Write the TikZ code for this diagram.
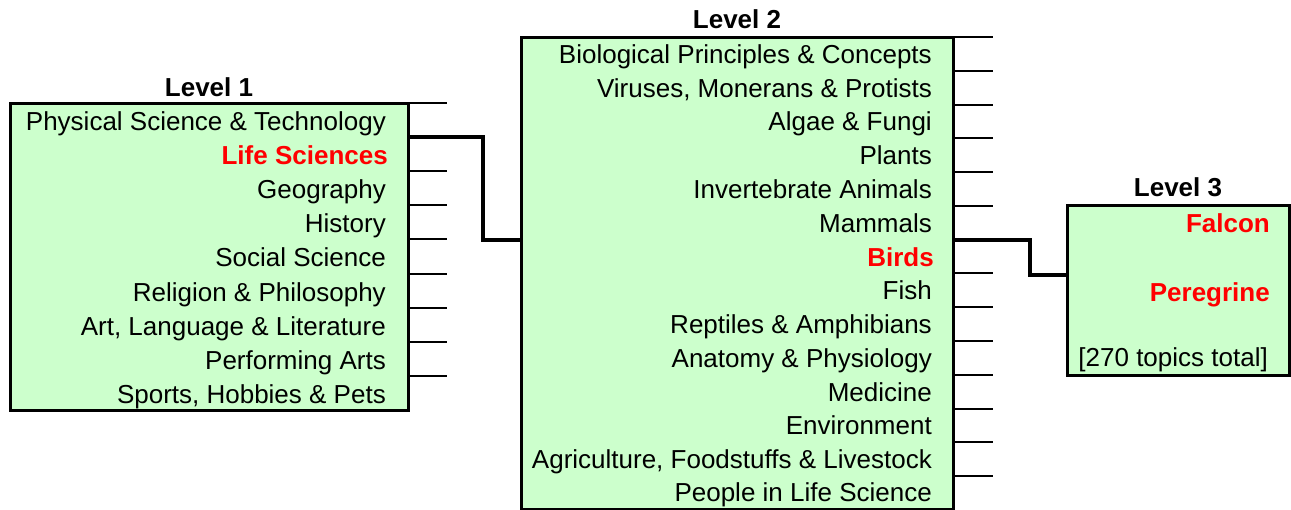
\documentclass[tikz,border=0pt]{standalone}
\usepackage{fontspec}
\setmainfont{Liberation Sans}
\usetikzlibrary{calc}
\definecolor{boxgreen}{RGB}{204,255,204}
\definecolor{hired}{RGB}{255,0,0}
\begin{document}
\begin{tikzpicture}[x=1pt,y=-1pt,
  panel/.style={draw=black, line width=3pt, fill=boxgreen, inner sep=0pt, outer sep=0pt, anchor=north west},
  item/.style={anchor=base east, inner sep=0pt, font=\fontsize{26}{30}\selectfont},
  hot/.style={anchor=base east, inner sep=0pt, text=hired, font=\fontsize{26}{30}\selectfont\bfseries},
  head/.style={anchor=base, inner sep=0pt, font=\fontsize{26}{30}\selectfont\bfseries},
  tick/.style={line width=2pt},
  link/.style={line width=4pt}
]
\useasboundingbox (0,0) rectangle (1291,509);

% ---------- Level 1 ----------
\node[panel, minimum width=398pt, minimum height=307pt] (b1) at (10,103) {};
\node[head] (h1) at ($(b1.north)+(0,-7)$) {Level 1};
\foreach \k in {0,2,3,4,5,6,7,8}
  \draw[tick] ($(b1.north east)+(0,\k*34.11)$) -- ++(39,0);
\node[item] (a1) at (386,130.5) {Physical Science \& Technology};
\node[hot]  (a2) at (388,164.6) {Life Sciences};
\node[item] (a3) at (386,198.7) {Geography};
\node[item] (a4) at (386,232.8) {History};
\node[item] (a5) at (386,266.9) {Social Science};
\node[item] (a6) at (386,301.1) {Religion \& Philosophy};
\node[item] (a7) at (386,335.2) {Art, Language \& Literature};
\node[item] (a8) at (386,369.3) {Performing Arts};
\node[item] (a9) at (386,403.4) {Sports, Hobbies \& Pets};

% ---------- Level 2 ----------
\node[panel, minimum width=432pt, minimum height=472pt] (b2) at (521,37) {};
\node[head] (h2) at ($(b2.north)+(0,-8.5)$) {Level 2};
\foreach \k in {0,1,2,3,4,5,7,8,9,10,11,12,13}
  \draw[tick] ($(b2.north east)+(0,\k*33.78)$) -- ++(40,0);
\node[item] (c1)  at (932,63.3)  {Biological Principles \& Concepts};
\node[item] (c2)  at (932,97.1)  {Viruses, Monerans \& Protists};
\node[item] (c3)  at (932,130.9) {Algae \& Fungi};
\node[item] (c4)  at (932,164.6) {Plants};
\node[item] (c5)  at (932,198.4) {Invertebrate Animals};
\node[item] (c6)  at (932,232.2) {Mammals};
\node[hot]  (c7)  at (934,266.0) {Birds};
\node[item] (c8)  at (932,299.8) {Fish};
\node[item] (c9)  at (932,333.5) {Reptiles \& Amphibians};
\node[item] (c10) at (932,367.3) {Anatomy \& Physiology};
\node[item] (c11) at (932,401.1) {Medicine};
\node[item] (c12) at (932,434.9) {Environment};
\node[item] (c13) at (932,468.7) {Agriculture, Foodstuffs \& Livestock};
\node[item] (c14) at (932,501.0) {People in Life Science};

% ---------- Level 3 ----------
\node[panel, minimum width=222pt, minimum height=170pt] (b3) at (1067,205) {};
\node[head] (h3) at ($(b3.north)+(0,-8.5)$) {Level 3};
\node[hot]  (d1) at (1270,232.5) {Falcon};
\node[hot]  (d2) at (1270,301.0) {Peregrine};
\node[item] (d3) at (1268,366.5) {[270 topics total]};

% ---------- connectors ----------
\coordinate (s1) at ($(b1.north east)+(0,34.11)$);
\coordinate (j1) at ($(b2.north west)+(0,203)$);
\coordinate (m1) at (483,0);
\draw[link] (s1) -| (m1 |- j1) -- (j1);

\coordinate (s2) at ($(b2.north east)+(0,6*33.78)$);
\coordinate (j2) at ($(b3.north west)+(0,70)$);
\coordinate (m2) at (1030,0);
\draw[link] (s2) -| (m2 |- j2) -- (j2);
\end{tikzpicture}
\end{document}
